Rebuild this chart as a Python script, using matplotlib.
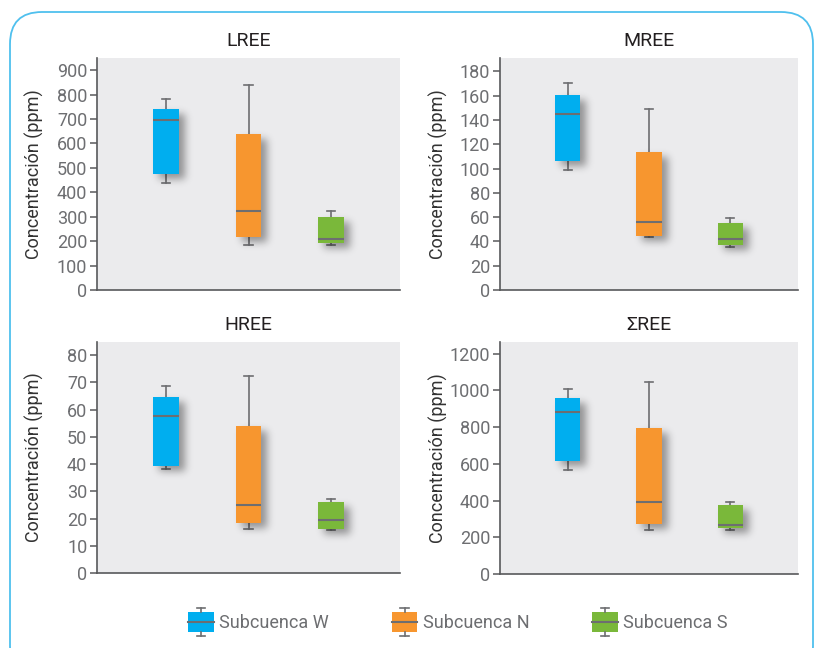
import numpy as np
import matplotlib
matplotlib.use("Agg")
import matplotlib.pyplot as plt
from matplotlib.patches import FancyBboxPatch, Rectangle, Patch
from matplotlib.lines import Line2D
from matplotlib.legend_handler import HandlerBase
from matplotlib.transforms import IdentityTransform

# ---------------- data ----------------
groups = ["Subcuenca W", "Subcuenca N", "Subcuenca S"]
colors = ["#00AEEF", "#F7962F", "#7AB83A"]

titles = ["LREE", "MREE", "HREE", "ΣREE"]

# whisker low, Q1, median, Q3, whisker high for W, N, S
lree_low = [438, 184, 184]
lree_q1 = [477, 218, 194]
lree_med = [695, 324, 209]
lree_q3 = [742, 639, 299]
lree_high = [782, 839, 322]

mree_low = [98.9, 43.7, 35.7]
mree_q1 = [105.8, 44.8, 37.4]
mree_med = [145, 55.8, 41.8]
mree_q3 = [160.8, 113.8, 55]
mree_high = [170.4, 149, 59.1]

hree_low = [38.2, 16.1, 15.9]
hree_q1 = [39.4, 18.5, 16.3]
hree_med = [57.5, 25, 19.5]
hree_q3 = [64.5, 53.8, 26]
hree_high = [68.6, 72.3, 27.2]

sree_low = [564, 241, 239]
sree_q1 = [614, 273, 250]
sree_med = [882, 390, 265]
sree_q3 = [960, 797, 373]
sree_high = [1007, 1047, 393]

yticks = [np.arange(0, 901, 100), np.arange(0, 181, 20),
          np.arange(0, 81, 10), np.arange(0, 1201, 200)]
ytops = [950, 191, 84.8, 1263]

panels = [
    (lree_low, lree_q1, lree_med, lree_q3, lree_high),
    (mree_low, mree_q1, mree_med, mree_q3, mree_high),
    (hree_low, hree_q1, hree_med, hree_q3, hree_high),
    (sree_low, sree_q1, sree_med, sree_q3, sree_high),
]

# ---------------- style ----------------
plt.rcParams['font.family'] = ['Roboto', 'DejaVu Sans']
GRAY = "#6d6e71"
DARK = "#231f20"
BG = "#EBEBED"
POS = [1, 2, 3]
BW = 0.31

W, H = 814, 648
fig = plt.figure(figsize=(W / 100, H / 100), dpi=100, facecolor="white")

# rounded blue frame
frame = FancyBboxPatch((10, -30), 803, 666, boxstyle="round,pad=0,rounding_size=32",
                       transform=IdentityTransform(), fc="none", ec="#4FC0EE", lw=1.3)
fig.patches.append(frame)

ax_px = [(97, 58, 400, 290), (500, 58, 798, 290),
         (97, 342, 400, 573), (500, 342, 798, 574)]


def blur(a, sigma):
    r = int(3 * sigma)
    x = np.arange(-r, r + 1)
    g = np.exp(-x ** 2 / (2 * sigma ** 2))
    g /= g.sum()
    a = np.apply_along_axis(lambda v: np.convolve(v, g, mode="same"), 0, a)
    a = np.apply_along_axis(lambda v: np.convolve(v, g, mode="same"), 1, a)
    return a


def add_shadows(ax, q1, q3, dx=6, dy=5, sigma=4.0, strength=0.38):
    # soft drop shadow behind the boxes, computed in pixel space
    bb = ax.bbox
    nx, ny = int(round(bb.width)), int(round(bb.height))
    pad = 20
    mask = np.zeros((ny + 2 * pad, nx + 2 * pad))
    for p, lo, hi in zip(POS, q1, q3):
        (xa, ya) = ax.transData.transform((p - BW / 2, lo)) - (bb.x0, bb.y0)
        (xb, yb) = ax.transData.transform((p + BW / 2, hi)) - (bb.x0, bb.y0)
        ia, ib = int(round(xa)) + dx + pad, int(round(xb)) + dx + pad
        ja, jb = int(round(ya)) - dy + pad, int(round(yb)) - dy + pad
        mask[ja:jb, ia:ib] = 1
    mask = blur(mask, sigma)[pad:pad + ny, pad:pad + nx]
    rgba = np.zeros((ny, nx, 4))
    rgba[..., 3] = mask * strength
    xl, yl = ax.get_xlim(), ax.get_ylim()
    ax.imshow(rgba, extent=(xl[0], xl[1], yl[0], yl[1]), origin="lower",
              aspect="auto", zorder=2, interpolation="bilinear")
    ax.set_xlim(xl)
    ax.set_ylim(yl)


for k in range(4):
    x0, y0, x1, y1 = ax_px[k]
    ax = fig.add_axes([x0 / W, 1 - y1 / H, (x1 - x0) / W, (y1 - y0) / H])
    ax.set_facecolor(BG)
    low, q1, med, q3, high = panels[k]
    stats = [dict(whislo=low[i], q1=q1[i], med=med[i], q3=q3[i], whishi=high[i], label="")
             for i in range(3)]
    bp = ax.bxp(stats, positions=POS, widths=BW, patch_artist=True,
                showfliers=False, capwidths=0.1,
                boxprops=dict(lw=0),
                medianprops=dict(color=GRAY, lw=1.5),
                whiskerprops=dict(color=GRAY, lw=1.2),
                capprops=dict(color=GRAY, lw=1.2))
    for b, c in zip(bp['boxes'], colors):
        b.set_facecolor(c)
        b.set_edgecolor(c)
        b.set_zorder(3)
    for m in bp['medians']:
        m.set_zorder(4)
    ax.set_xlim(0.17, 3.83)
    ax.set_ylim(0, ytops[k])
    add_shadows(ax, q1, q3)
    ax.set_yticks(yticks[k])
    ax.set_xticks([])
    for s in ["top", "right"]:
        ax.spines[s].set_visible(False)
    for s in ["left", "bottom"]:
        ax.spines[s].set_color("#58595b")
        ax.spines[s].set_linewidth(1.2)
    ax.tick_params(axis="y", colors="#58595b", labelcolor=GRAY, labelsize=13,
                   length=5, width=1.1, pad=2)
    ax.set_title(titles[k], fontsize=14, color=DARK, pad=9)
    ax.set_ylabel("Concentración (ppm)", fontsize=13, color="#333333")
    ax.yaxis.set_label_coords(-0.175, 0.5)


class BoxHandler(HandlerBase):
    def create_artists(self, legend, orig_handle, xdescent, ydescent, width, height,
                       fontsize, trans):
        c = orig_handle.get_facecolor()
        cx = -xdescent + width / 2
        r = Rectangle((-xdescent, -ydescent + height * 0.13), width, height * 0.74,
                      fc=c, ec="none", transform=trans)
        med = Line2D([-xdescent, -xdescent + width], [-ydescent + height * 0.5] * 2,
                     color=GRAY, lw=1.5, transform=trans)
        w1 = Line2D([cx, cx], [-ydescent, -ydescent + height * 0.13], color=GRAY, lw=1.2,
                    transform=trans)
        w2 = Line2D([cx, cx], [-ydescent + height * 0.87, -ydescent + height], color=GRAY,
                    lw=1.2, transform=trans)
        c1 = Line2D([cx - 3, cx + 3], [-ydescent] * 2, color=GRAY, lw=1.2, transform=trans)
        c2 = Line2D([cx - 3, cx + 3], [-ydescent + height] * 2, color=GRAY, lw=1.2,
                    transform=trans)
        return [r, w1, w2, c1, c2, med]


handles = [Patch(facecolor=c) for c in colors]
leg = fig.legend(handles, groups, loc="center", bbox_to_anchor=(458 / W, 1 - 622 / H),
                 ncol=3, frameon=False, fontsize=13, labelcolor=GRAY,
                 handler_map={Patch: BoxHandler()}, handlelength=1.4, handleheight=2.0,
                 handletextpad=0.3, columnspacing=3.5)

fig.savefig("out.png", dpi=100)
